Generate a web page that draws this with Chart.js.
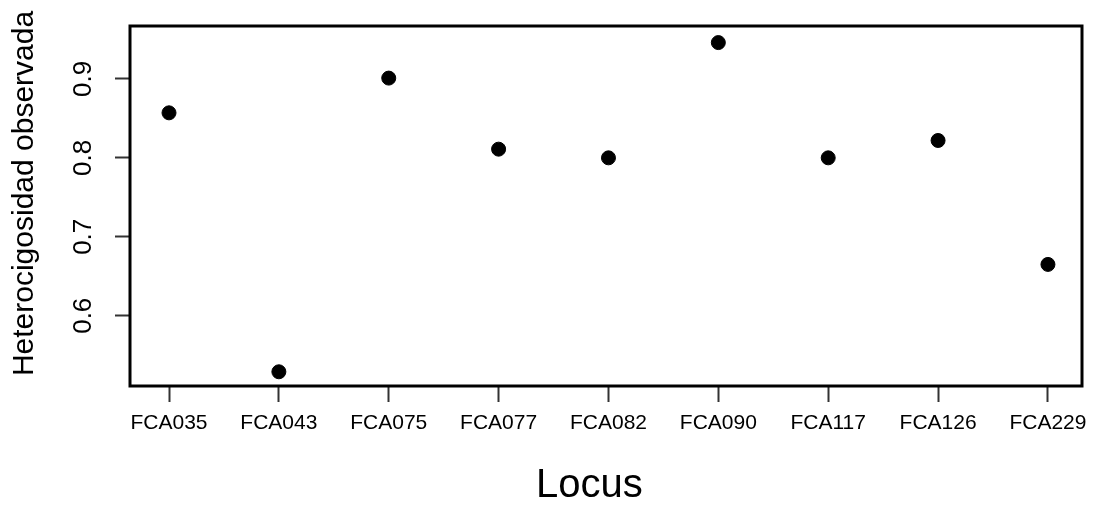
<!DOCTYPE html>
<html>
<head>
<meta charset="utf-8">
<script src="https://cdn.jsdelivr.net/npm/chart.js@4/dist/chart.umd.min.js"></script>
<style>
  body { margin: 0; background: #fff; }
</style>
</head>
<body>
<canvas id="chartCanvas" width="1093" height="506"></canvas>
<script>
const loci = ['FCA035', 'FCA043', 'FCA075', 'FCA077', 'FCA082', 'FCA090', 'FCA117', 'FCA126', 'FCA229'];
const hetObs = [0.857, 0.529, 0.901, 0.811, 0.800, 0.946, 0.800, 0.822, 0.665];
const yTicks = [0.6, 0.7, 0.8, 0.9];

const font = '"Liberation Sans", Arial, sans-serif';

// R style box around the plot region
const boxPlugin = {
  id: 'box',
  afterDatasetsDraw(chart) {
    const a = chart.chartArea, c = chart.ctx;
    c.save();
    c.strokeStyle = '#000';
    c.lineWidth = 3;
    c.strokeRect(a.left, a.top, a.right - a.left, a.bottom - a.top);
    c.restore();
  }
};

const ctx = document.getElementById('chartCanvas').getContext('2d');
new Chart(ctx, {
  type: 'scatter',
  data: {
    datasets: [{
      label: 'Heterocigosidad observada',
      data: hetObs.map((v, i) => ({ x: i + 1, y: v })),
      backgroundColor: '#000',
      borderColor: '#000',
      pointRadius: 7,
      pointHoverRadius: 7
    }]
  },
  options: {
    responsive: false,
    animation: false,
    layout: { padding: { top: 26, right: 11, left: 0, bottom: 0 } },
    plugins: { legend: { display: false }, tooltip: { enabled: false } },
    scales: {
      x: {
        type: 'linear',
        min: 0.645,
        max: 9.31,
        afterFit: s => { s.height = 120; s.paddingLeft = 0; s.paddingRight = 0; },
        afterBuildTicks: s => { s.ticks = loci.map((l, i) => ({ value: i + 1 })); },
        border: { display: false },
        grid: { drawOnChartArea: false, drawTicks: true, tickLength: 16, tickWidth: 2, tickColor: '#333' },
        ticks: {
          color: '#000',
          padding: 9,
          maxRotation: 0,
          autoSkip: false,
          font: { family: font, size: 21 },
          callback: v => loci[v - 1]
        },
        title: {
          display: true,
          text: 'Locus   ',
          color: '#000',
          font: { family: font, size: 40, lineHeight: 1 },
          padding: { top: 0, bottom: 0 }
        }
      },
      y: {
        min: 0.511,
        max: 0.967,
        afterFit: s => { s.width = 130; s.paddingTop = 0; s.paddingBottom = 0; },
        afterBuildTicks: s => { s.ticks = yTicks.map(v => ({ value: v })); },
        border: { display: false },
        grid: { drawOnChartArea: false, drawTicks: true, tickLength: 15, tickWidth: 2, tickColor: '#333' },
        ticks: {
          color: '#000',
          padding: 13,
          minRotation: 90,
          maxRotation: 90,
          crossAlign: 'center',
          font: { family: font, size: 26 },
          callback: v => v.toFixed(1)
        },
        title: {
          display: true,
          text: '   Heterocigosidad observada',
          color: '#000',
          font: { family: font, size: 30, lineHeight: 1 },
          padding: { top: 10, bottom: 0 }
        }
      }
    }
  },
  plugins: [boxPlugin]
});
</script>
</body>
</html>
